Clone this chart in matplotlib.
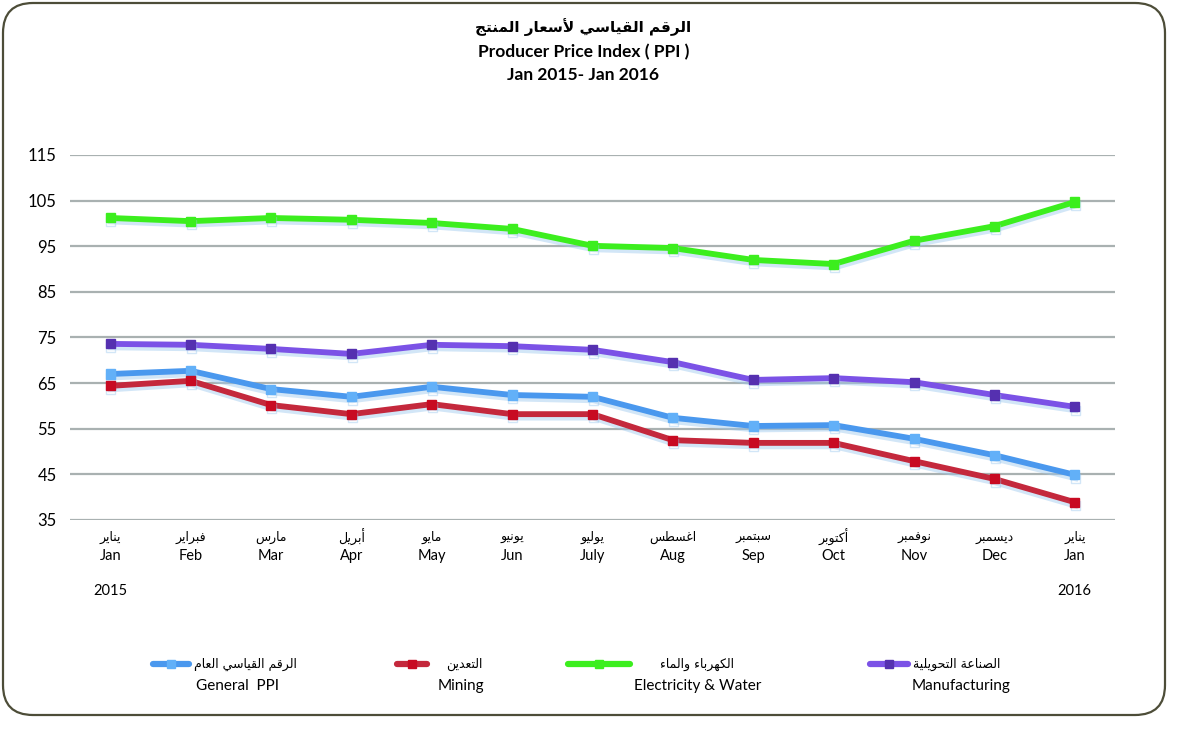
import numpy as np
import matplotlib.pyplot as plt
import matplotlib.patheffects as pe
from matplotlib.patches import FancyBboxPatch
from matplotlib.lines import Line2D

months_en = ['Jan', 'Feb', 'Mar', 'Apr', 'May', 'Jun', 'July', 'Aug', 'Sep', 'Oct', 'Nov', 'Dec', 'Jan']
months_ar = ['يناير', 'فبراير', 'مارس', 'أبريل', 'مايو', 'يونيو', 'يوليو',
             'اغسطس', 'سبتمبر', 'أكتوبر', 'نوفمبر', 'ديسمبر', 'يناير']
general = [67.0, 67.7, 63.7, 62.0, 64.2, 62.4, 62.0, 57.4, 55.6, 55.8, 52.8, 49.2, 44.9]
mining = [64.4, 65.5, 60.2, 58.2, 60.4, 58.2, 58.2, 52.5, 51.9, 51.9, 47.9, 44.0, 38.9]
electricity = [101.2, 100.5, 101.2, 100.8, 100.1, 98.8, 95.1, 94.6, 92.0, 91.1, 96.2, 99.4, 104.7]
manufacturing = [73.6, 73.4, 72.5, 71.4, 73.4, 73.1, 72.3, 69.6, 65.7, 66.1, 65.2, 62.4, 59.8]
yticks = [35, 45, 55, 65, 75, 85, 95, 105, 115]

# (data, line colour, marker colour, arabic name, english name)
series = [
    (general, '#4a98ee', '#62b0f8', 'الرقم القياسي العام', 'General  PPI'),
    (mining, '#c4283c', '#c80a22', 'التعدين', 'Mining'),
    (electricity, '#3cee1e', '#3cee1e', 'الكهرباء والماء', 'Electricity & Water'),
    (manufacturing, '#7b52e6', '#5530b0', 'الصناعة التحويلية', 'Manufacturing'),
]

# tiny arabic shaper: matplotlib does no joining / rtl on its own
DUAL = {'ئ': 0xFE89, 'ب': 0xFE8F, 'ت': 0xFE95, 'ث': 0xFE99, 'ج': 0xFE9D, 'ح': 0xFEA1,
        'خ': 0xFEA5, 'س': 0xFEB1, 'ش': 0xFEB5, 'ص': 0xFEB9, 'ض': 0xFEBD, 'ط': 0xFEC1,
        'ظ': 0xFEC5, 'ع': 0xFEC9, 'غ': 0xFECD, 'ف': 0xFED1, 'ق': 0xFED5, 'ك': 0xFED9,
        'ل': 0xFEDD, 'م': 0xFEE1, 'ن': 0xFEE5, 'ه': 0xFEE9, 'ي': 0xFEF1}
RIGHT = {'آ': 0xFE81, 'أ': 0xFE83, 'ؤ': 0xFE85, 'إ': 0xFE87, 'ا': 0xFE8D, 'ة': 0xFE93,
         'د': 0xFEA9, 'ذ': 0xFEAB, 'ر': 0xFEAD, 'ز': 0xFEAF, 'و': 0xFEED, 'ى': 0xFEEF}
LAMALEF = {'آ': 0xFEF5, 'أ': 0xFEF7, 'إ': 0xFEF9, 'ا': 0xFEFB}


def shape(text):
    units = []
    i = 0
    while i < len(text):
        if text[i] == 'ل' and i + 1 < len(text) and text[i + 1] in LAMALEF:
            units.append(('LA', LAMALEF[text[i + 1]]))
            i += 2
        else:
            units.append((text[i], None))
            i += 1
    joins_next = lambda u: u[0] in DUAL
    joining = lambda u: u[0] in DUAL or u[0] in RIGHT or u[0] == 'LA'
    out = []
    for k, u in enumerate(units):
        p = k > 0 and joins_next(units[k - 1]) and joining(u)
        n = k + 1 < len(units) and joins_next(u) and joining(units[k + 1])
        c = u[0]
        if c == 'LA':
            out.append(chr(u[1] + (1 if p else 0)))
        elif c in DUAL:
            out.append(chr(DUAL[c] + (3 if p and n else 1 if p else 2 if n else 0)))
        elif c in RIGHT:
            out.append(chr(RIGHT[c] + (1 if p else 0)))
        elif c == 'ء':
            out.append('\uFE80')
        else:
            out.append(c)
    return ''.join(out)[::-1]


EN = 'Lato'
AR = 'DejaVu Sans'

fig = plt.figure(figsize=(12, 7.33), dpi=100)
ax = fig.add_axes([70 / 1200, 1 - 520 / 733, 1045 / 1200, 365 / 733])

x = np.arange(len(months_en))
for data, col, mcol, ar, en in series:
    ax.plot(x, data, color=col, lw=4.2, marker='s', ms=6.5, mfc=mcol, mec=mcol,
            solid_joinstyle='miter', zorder=3,
            path_effects=[pe.SimpleLineShadow(offset=(0.5, -2.5), shadow_color='#9cc8ee', alpha=0.45),
                          pe.Normal()])

ax.set_xlim(-0.5, 12.5)
ax.set_ylim(35, 115)
ax.set_yticks(yticks)
ax.set_yticklabels([str(v) for v in yticks], fontfamily=EN, fontsize=12)
ax.grid(axis='y', color='#a9b1b1', lw=1.6, zorder=1)
ax.set_axisbelow(True)
ax.set_xticks([])
ax.tick_params(axis='y', length=0, pad=9.5)
for s in ax.spines.values():
    s.set_visible(False)

tr = ax.get_xaxis_transform()
for i in x:
    ax.text(i, -0.049, shape(months_ar[i]), transform=tr, ha='center', va='center',
            fontfamily=AR, fontsize=9)
    ax.text(i, -0.099, months_en[i], transform=tr, ha='center', va='center',
            fontfamily=EN, fontsize=10.5)
ax.text(x[0], -0.195, '2015', transform=tr, ha='center', va='center', fontfamily=EN, fontsize=10.5)
ax.text(x[-1], -0.195, '2016', transform=tr, ha='center', va='center', fontfamily=EN, fontsize=10.5)

# titles
fig.text(0.486, 1 - 27 / 733, shape('الرقم القياسي لأسعار المنتج'), ha='center', va='center',
         fontfamily=AR, fontsize=11, fontweight='bold')
fig.text(0.486, 1 - 52 / 733, 'Producer Price Index ( PPI )', ha='center', va='center',
         fontfamily=EN, fontsize=12.5, fontweight='bold')
fig.text(0.486, 1 - 75 / 733, 'Jan 2015- Jan 2016', ha='center', va='center',
         fontfamily=EN, fontsize=12.5, fontweight='bold')

# legend, laid out by hand like the original
leg = [(153, 189, 194, 237), (397, 427, 446, 461), (568, 630, 660, 698), (870, 908, 913, 961)]
for (data, col, mcol, ar, en), (x0, x1, xa, xe) in zip(series, leg):
    yl = 1 - 664 / 733
    fig.add_artist(Line2D([x0 / 1200, x1 / 1200], [yl, yl], color=col, lw=4.5,
                          solid_capstyle='round', transform=fig.transFigure))
    fig.add_artist(Line2D([(x0 + x1) / 2400], [yl], marker='s', ms=6, mfc=mcol, mec=mcol,
                          transform=fig.transFigure))
    fig.text(xa / 1200, yl, shape(ar), ha='left', va='center', fontfamily=AR, fontsize=9)
    fig.text(xe / 1200, 1 - 686 / 733, en, ha='center', va='center', fontfamily=EN, fontsize=11)

# rounded frame
fig.add_artist(FancyBboxPatch((0.03, 0.18), 11.62, 7.12, boxstyle='round,pad=0,rounding_size=0.3',
                              transform=fig.dpi_scale_trans, fill=False, ec='#4d4d38', lw=1.6))

fig.savefig('out.png', dpi=100)
